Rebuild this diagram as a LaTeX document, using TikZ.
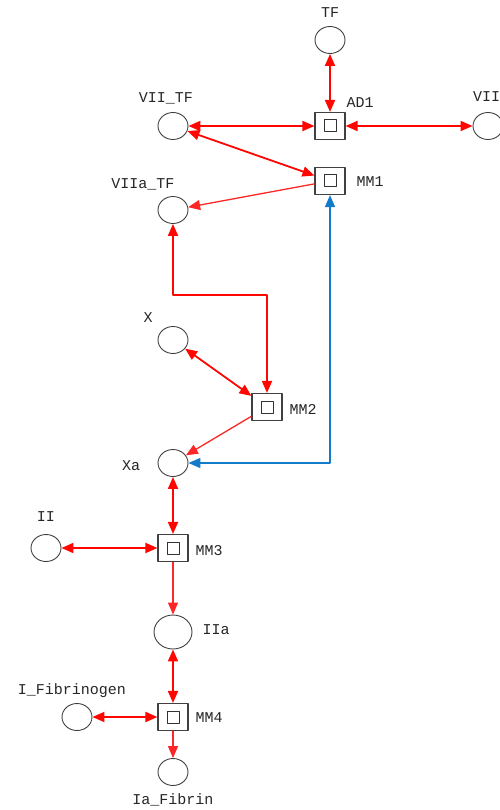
\documentclass[tikz,border=0pt]{standalone}
\usepackage{fontspec}
\setmonofont{Liberation Mono}
\usetikzlibrary{arrows.meta,shapes.geometric}

\begin{document}
\begin{tikzpicture}[x=1pt,y=-1pt,>={Triangle[length=12pt,width=10pt]},line join=round,
  place/.style={draw=black!75,ellipse,minimum width=30pt,minimum height=27pt,inner sep=0pt,line width=0.9pt},
  trans/.style={draw=black!75,minimum width=30pt,minimum height=27pt,inner sep=0pt,line width=1.1pt,
    path picture={\draw[black!80,line width=1pt] ([xshift=-6pt,yshift=-6pt]path picture bounding box.center) rectangle ++(12pt,12pt);}},
  lbl/.style={font=\ttfamily\fontsize{15}{15}\selectfont,text=black!85,inner sep=0pt},
  dbl/.style={<->,red!95!orange,line width=1.8pt},
  one/.style={->,red!85!white,line width=1.3pt},
  inh/.style={<->,cyan!60!blue,line width=1.5pt}]
\useasboundingbox (0,0) rectangle (499,810);
% places
\node[place] (tf) at (330,40) {};
\node[place] (vtf) at (173,126) {};
\node[place] (vii) at (488,126) {};
\node[place] (vatf) at (173,210) {};
\node[place] (x) at (173,340) {};
\node[place] (xa) at (173,463) {};
\node[place] (ii) at (46,548) {};
\node[place,minimum width=38pt,minimum height=34pt] (iia) at (173,632) {};
\node[place] (fbg) at (77,717) {};
\node[place] (fbn) at (173,772) {};
% transitions
\node[trans] (ad1) at (330,126) {};
\node[trans] (mm1) at (330,181) {};
\node[trans] (mm2) at (267,407) {};
\node[trans] (mm3) at (173,548) {};
\node[trans] (mm4) at (173,717) {};
% labels
\node[lbl] (tfl) at (330,13) {TF};
\node[lbl] (vtfl) at (166,98) {VII\_TF};
\node[lbl,anchor=west] (viil) at (473,97) {VII};
\node[lbl] (vatfl) at (143,184) {VIIa\_TF};
\node[lbl] (xl) at (148,318) {X};
\node[lbl] (xal) at (131,466) {Xa};
\node[lbl] (iil) at (46,517) {II};
\node[lbl] (iial) at (216,630) {IIa};
\node[lbl] (fbgl) at (72,691) {I\_Fibrinogen};
\node[lbl] (fbnl) at (173,800) {Ia\_Fibrin};
\node[lbl] (ad1l) at (360,103) {AD1};
\node[lbl] (mm1l) at (370,182) {MM1};
\node[lbl] (mm2l) at (303,409) {MM2};
\node[lbl] (mm3l) at (209,551) {MM3};
\node[lbl] (mm4l) at (209,718) {MM4};
% arcs
\coordinate (bend) at (0,295);
\draw[dbl] (tf) -- (ad1);
\draw[dbl] (vtf) -- (ad1);
\draw[dbl] (ad1) -- (vii);
\draw[dbl] (vtf) -- (mm1);
\draw[one] (mm1) -- (vatf);
\draw[dbl] (vatf.south) -- (vatf.south |- bend) -- (mm2.north |- bend) -- (mm2.north);
\draw[dbl] (x) -- (mm2);
\draw[one] (mm2) -- (xa);
\draw[inh] (xa.east) -- (mm1.south |- xa.east) -- (mm1.south);
\draw[dbl] (xa) -- (mm3);
\draw[dbl] (ii) -- (mm3);
\draw[one] (mm3) -- (iia);
\draw[dbl] (iia) -- (mm4);
\draw[dbl] (fbg) -- (mm4);
\draw[one] (mm4) -- (fbn);
\end{tikzpicture}
\end{document}
